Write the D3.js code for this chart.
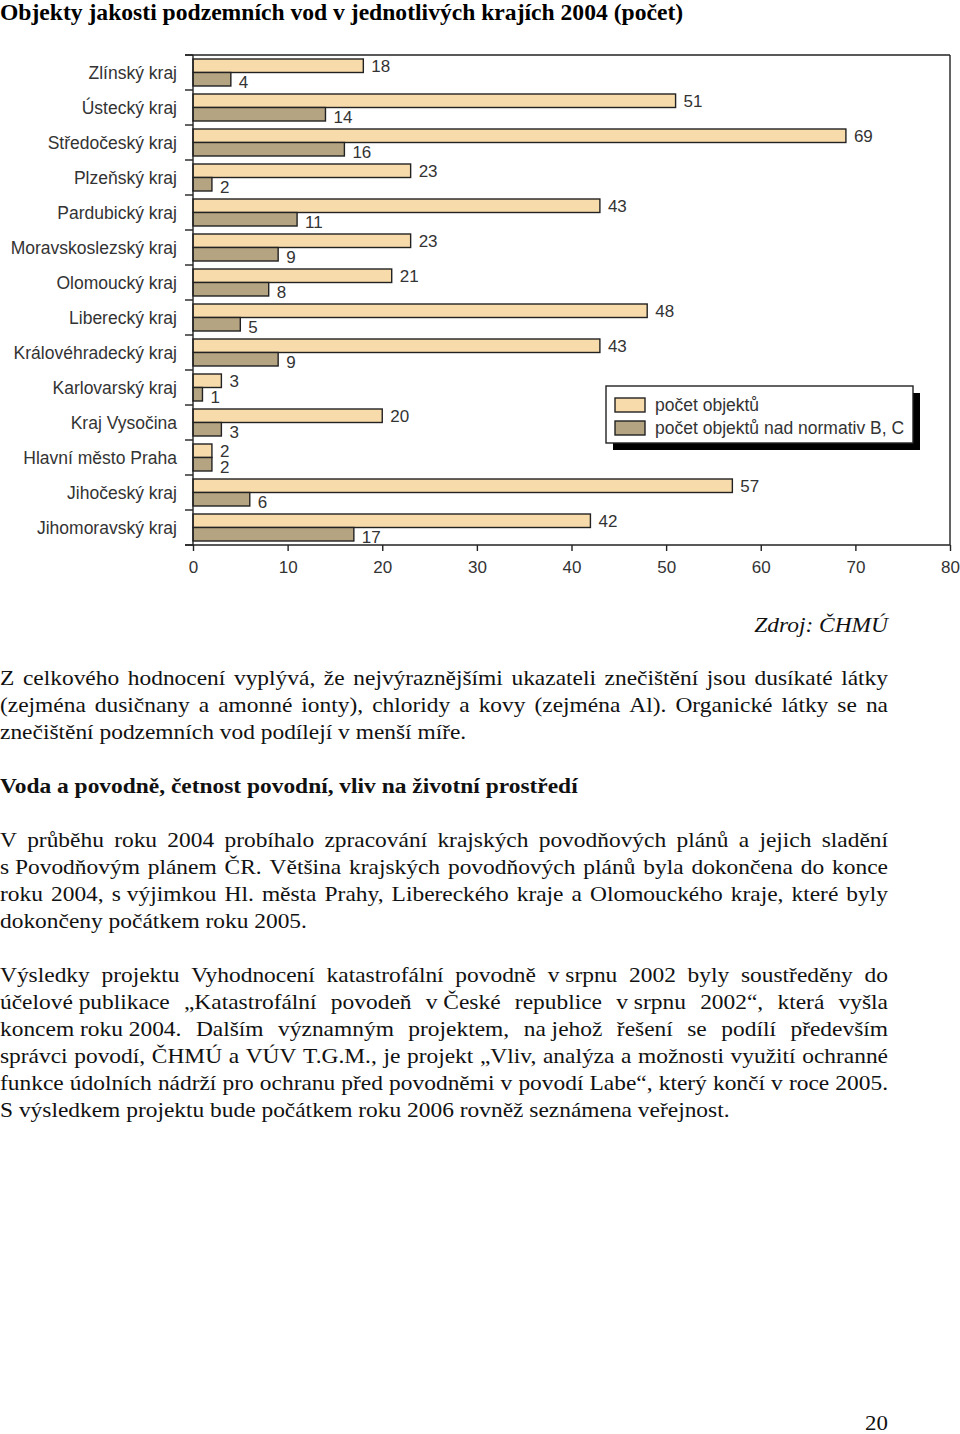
<!DOCTYPE html>
<html><head><meta charset="utf-8">
<script src="https://cdn.jsdelivr.net/npm/d3@7"></script>
<style>body{margin:0;background:#fff}svg{display:block}</style>
</head><body>
<svg id="c" width="960" height="1434"></svg>
<script>
const title = "Objekty jakosti podzemních vod v jednotlivých krajích 2004 (počet)";
const categories = ["Zlínský kraj","Ústecký kraj","Středočeský kraj","Plzeňský kraj","Pardubický kraj","Moravskoslezský kraj","Olomoucký kraj","Liberecký kraj","Královéhradecký kraj","Karlovarský kraj","Kraj Vysočina","Hlavní město Praha","Jihočeský kraj","Jihomoravský kraj"];
const countAll = [18,51,69,23,43,23,21,48,43,3,20,2,57,42];
const countOver = [4,14,16,2,11,9,8,5,9,1,3,2,6,17];
const seriesNames = ["počet objektů","počet objektů nad normativ B, C"];
const xTicks = [0,10,20,30,40,50,60,70,80];
const sourceText = "Zdroj: ČHMÚ";
const textLines = [
  {t:"Z celkového hodnocení vyplývá, že nejvýraznějšími ukazateli znečištění jsou dusíkaté látky", j:true},
  {t:"(zejména dusičnany a amonné ionty), chloridy a kovy (zejména Al). Organické látky se na", j:true},
  {t:"znečištění podzemních vod podílejí v menší míře.", j:false},
  {t:"Voda a povodně, četnost povodní, vliv na životní prostředí", j:false, b:true, gap:1},
  {t:"V průběhu roku 2004 probíhalo zpracování krajských povodňových plánů a jejich sladění", j:true, gap:1},
  {t:"s\u00a0Povodňovým plánem ČR. Většina krajských povodňových plánů byla dokončena do konce", j:true},
  {t:"roku 2004, s\u00a0výjimkou Hl. města Prahy, Libereckého kraje a Olomouckého kraje, které byly", j:true},
  {t:"dokončeny počátkem roku 2005.", j:false},
  {t:"Výsledky projektu Vyhodnocení katastrofální povodně v\u00a0srpnu 2002 byly soustředěny do", j:true, gap:1},
  {t:"účelové\u00a0publikace „Katastrofální povodeň v\u00a0České republice v\u00a0srpnu 2002“, která vyšla", j:true},
  {t:"koncem\u00a0roku\u00a02004. Dalším významným projektem, na\u00a0jehož řešení se podílí především", j:true},
  {t:"správci povodí, ČHMÚ a VÚV T.G.M., je projekt „Vliv, analýza a možnosti využití ochranné", j:true},
  {t:"funkce údolních nádrží pro ochranu před povodněmi v povodí Labe“, který končí v roce 2005.", j:true},
  {t:"S výsledkem projektu bude počátkem roku 2006 rovněž seznámena veřejnost.", j:false}
];
const pageNumber = "20";

const svg = d3.select("#c");
const sans = "'Liberation Sans', Arial, Helvetica, sans-serif";
const serif = "'Liberation Serif', 'Times New Roman', serif";
const ink = "#222";
const lightFill = "#f7dbab", darkFill = "#b4a482";
const stretch = 1.09;

svg.append("rect").attr("width",960).attr("height",1434).attr("fill","#fff");

svg.append("text").attr("transform","scale(1.05,1)").attr("x",0).attr("y",20)
  .attr("font-family",serif).attr("font-weight","bold").attr("font-size",22.5)
  .attr("fill","#000").text(title);

const x = d3.scaleLinear().domain([0,80]).range([193,950]);
const y = d3.scaleBand().domain(categories).range([55,545]).paddingInner(8/35).paddingOuter(4/35);
const ySub = d3.scaleBand().domain(["all","over"]).range([0,y.bandwidth()]);
const data = categories.map((c,i)=>({c, all:countAll[i], over:countOver[i]}));

const g = svg.append("g");
g.append("line").attr("x1",185).attr("x2",x(80)).attr("y1",55).attr("y2",55).attr("stroke",ink).attr("stroke-width",1.4);
g.append("line").attr("x1",x(80)).attr("x2",x(80)).attr("y1",55).attr("y2",545).attr("stroke",ink).attr("stroke-width",1.4);

const grp = g.selectAll("g.cat").data(data).join("g").attr("transform",d=>`translate(0,${y(d.c)})`);
[["all",lightFill,0.5],["over",darkFill,2.5]].forEach(([k,f,off])=>{
  grp.append("rect").attr("x",x(0)).attr("y",ySub(k)).attr("width",d=>x(d[k])-x(0)).attr("height",ySub.bandwidth())
    .attr("fill",f).attr("stroke",ink).attr("stroke-width",1.4);
  grp.append("text").attr("x",d=>x(d[k])+8).attr("y",ySub(k)+ySub.bandwidth()/2+off).attr("dy","0.36em")
    .attr("font-family",sans).attr("font-size",17).attr("fill","#333").text(d=>d[k]);
});

const step = y.step();
const bounds = categories.map(c=>y(c)-y.paddingInner()*step/2).concat([545]);
g.append("line").attr("x1",x(0)).attr("x2",x(0)).attr("y1",55).attr("y2",545).attr("stroke",ink).attr("stroke-width",1.4);
g.selectAll("line.yt").data(bounds).join("line").attr("class","yt")
  .attr("x1",185).attr("x2",x(0)).attr("y1",d=>d).attr("y2",d=>d).attr("stroke",ink).attr("stroke-width",1.4);
g.selectAll("text.yl").data(categories).join("text").attr("class","yl")
  .attr("x",177).attr("y",c=>y(c)+y.bandwidth()/2).attr("dy","0.36em").attr("text-anchor","end")
  .attr("font-family",sans).attr("font-size",17.5).attr("fill","#333").text(c=>c);

const xa = g.append("g").attr("transform","translate(0,545)")
  .call(d3.axisBottom(x).tickValues(xTicks).tickSize(6).tickPadding(10).tickSizeOuter(0));
xa.select(".domain").remove();
xa.append("line").attr("x1",185).attr("x2",x(80)).attr("stroke",ink).attr("stroke-width",1.4);
xa.selectAll(".tick line").attr("stroke",ink).attr("stroke-width",1.4);
xa.selectAll(".tick text").attr("font-family",sans).attr("font-size",17).attr("fill","#333");

const lg = svg.append("g").attr("transform","translate(606,386)");
lg.append("rect").attr("x",7).attr("y",7).attr("width",307).attr("height",57).attr("fill","#000");
lg.append("rect").attr("x",0).attr("y",0).attr("width",307).attr("height",57).attr("fill","#fff").attr("stroke",ink).attr("stroke-width",1.4);
seriesNames.forEach((n,i)=>{
  lg.append("rect").attr("x",9).attr("y",12+i*23).attr("width",30).attr("height",14)
    .attr("fill",i===0?lightFill:darkFill).attr("stroke",ink).attr("stroke-width",1.4);
  lg.append("text").attr("x",49).attr("y",19+i*23).attr("dy","0.36em")
    .attr("font-family",sans).attr("font-size",17.5).attr("fill","#333").text(n);
});

svg.append("text").attr("transform",`translate(888,632) scale(${stretch},1)`).attr("text-anchor","end")
  .attr("font-family",serif).attr("font-style","italic").attr("font-size",21.5).attr("fill","#111").text(sourceText);

const right = 888/stretch;
const tg = svg.append("g").attr("transform",`scale(${stretch},1)`);
let by = 685;
textLines.forEach((ln,i)=>{
  if(i>0) by += 27*(1+(ln.gap||0));
  const t = tg.append("text").attr("y",by).attr("font-family",serif).attr("font-size",21.5)
    .attr("font-weight",ln.b?"bold":"normal").attr("fill","#111");
  if(!ln.j){ t.attr("x",0).text(ln.t); return; }
  const words = ln.t.split(" ");
  const sp = words.map(w=>t.append("tspan").text(w));
  const widths = sp.map(s=>s.node().getComputedTextLength());
  const gap = (right - d3.sum(widths))/(words.length-1);
  let cx = 0;
  sp.forEach((s,k)=>{ s.attr("x",cx); cx += widths[k]+gap; });
});

svg.append("text").attr("transform",`translate(888,1430) scale(${stretch},1)`).attr("text-anchor","end")
  .attr("font-family",serif).attr("font-size",21).attr("fill","#111").text(pageNumber);
</script>
</body></html>
